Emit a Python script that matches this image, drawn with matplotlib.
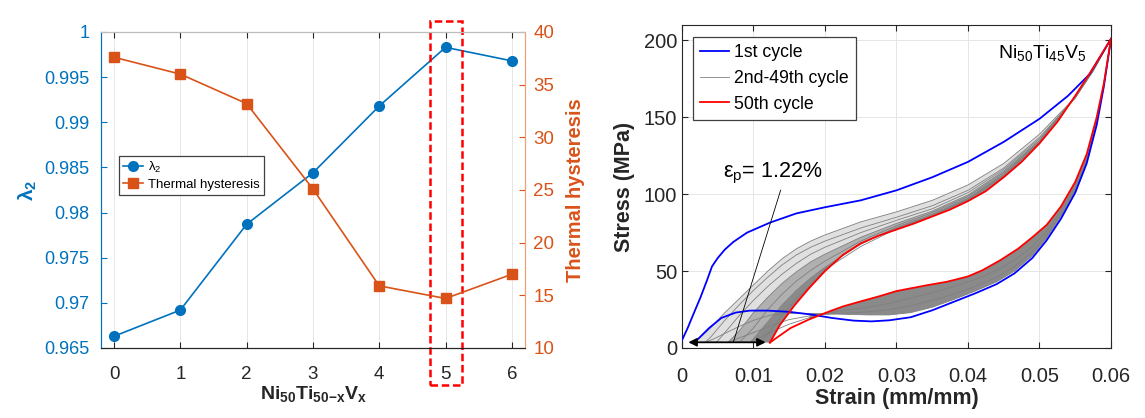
import matplotlib
matplotlib.use('Agg')
import matplotlib.pyplot as plt
from matplotlib.lines import Line2D
from matplotlib.patches import Rectangle

plt.rcParams['font.family'] = ['Liberation Sans', 'DejaVu Sans']
plt.rcParams['mathtext.fontset'] = 'custom'
plt.rcParams['mathtext.rm'] = 'Liberation Sans'
plt.rcParams['mathtext.it'] = 'Liberation Sans:italic'
plt.rcParams['mathtext.bf'] = 'Liberation Sans:bold'

BLUE = '#0072BD'
ORANGE = '#D95319'
DARK = '#262626'

# ---- left panel data ----
vanadium_x = [0, 1, 2, 3, 4, 5, 6]
lambda2 = [0.9663, 0.9692, 0.9787, 0.9844, 0.9918, 0.9983, 0.9968]
thermal_hyst = [37.6, 36.0, 33.2, 25.1, 15.9, 14.7, 17.0]

# ---- right panel data (strain mm/mm, stress MPa) ----
cyc1_load_strain = [0.0, 0.0008, 0.0016, 0.0026, 0.0035, 0.0042, 0.0050, 0.0060, 0.0072, 0.0091,
                    0.0123, 0.0160, 0.0200, 0.0250, 0.0300, 0.0350, 0.0400, 0.0450, 0.0500,
                    0.0540, 0.0570, 0.0600]
cyc1_load_stress = [5, 13, 22, 33, 44, 53, 58.5, 64, 69, 75,
                    81.5, 87.5, 91.5, 96, 102.5, 111, 121, 134, 149,
                    164, 178, 201]
cyc1_unload_strain = [0.0600, 0.0590, 0.0580, 0.0566, 0.0550, 0.0530, 0.0510, 0.0490, 0.0465,
                      0.0440, 0.0410, 0.0380, 0.0350, 0.0320, 0.0290, 0.0265, 0.0240, 0.0210,
                      0.0180, 0.0150, 0.0120, 0.0095, 0.0075, 0.0055, 0.0038, 0.0025, 0.0017]
cyc1_unload_stress = [201, 170, 145, 120, 101, 84, 70, 58.5, 48.5,
                      41.5, 35.5, 30, 24.5, 20, 18, 17.3, 17.8, 19.5,
                      21.8, 23.5, 24.3, 24.3, 23, 19.5, 13, 7, 3.5]

cyc50_load_strain = [0.0123, 0.0137, 0.0157, 0.0177, 0.0200, 0.0225, 0.0250, 0.0275, 0.0300,
                     0.0325, 0.0350, 0.0375, 0.0400, 0.0425, 0.0450, 0.0475, 0.0500, 0.0525,
                     0.0550, 0.0575, 0.0600]
cyc50_load_stress = [3.5, 15, 27.5, 38.5, 50, 60.5, 68, 73, 77,
                     81, 85.5, 90, 95.5, 102, 111, 121, 133, 147,
                     164, 182, 201]
cyc50_unload_strain = [0.0600, 0.0590, 0.0580, 0.0566, 0.0550, 0.0530, 0.0510, 0.0490, 0.0470,
                       0.0445, 0.0420, 0.0400, 0.0370, 0.0345, 0.0320, 0.0300, 0.0275, 0.0250,
                       0.0225, 0.0200, 0.0177, 0.0152, 0.0135, 0.0123]
cyc50_unload_stress = [201, 172, 150, 126, 108, 92, 80, 72, 64.5,
                       57, 50.5, 46.5, 43, 41, 38.8, 37, 33.5, 30.3,
                       27, 22.7, 18.4, 13, 7.5, 3.5]

# grey cycles (2nd-49th): loading branches on a shared strain grid
grey_load_grid = [0.002, 0.004, 0.006, 0.008, 0.010, 0.012, 0.014, 0.016, 0.018, 0.020,
                  0.025, 0.030, 0.035, 0.040, 0.045, 0.050, 0.055, 0.0575, 0.060]
grey_load_start = [0.0018, 0.0032, 0.0048, 0.0064, 0.0080, 0.0095, 0.0108]
grey_load_stress = [
    [4.5, 13, 23, 32, 41, 50, 58, 64.5, 69.5, 73.5, 82, 88.5, 96, 106, 120, 139, 163, 180, 201],
    [None, 7, 18, 28, 37.5, 46, 54, 60.5, 65.5, 69.5, 78, 85, 92.5, 102.5, 117, 137, 162.5, 180, 201],
    [None, None, 10, 21, 31, 40, 48, 55, 61, 65.5, 75, 83, 90.5, 101, 116, 136, 162.5, 180.5, 201],
    [None, None, None, 11, 23, 33, 42, 49.5, 56, 61, 72, 81, 89, 99.5, 115, 135, 163.5, 181, 201],
    [None, None, None, None, 13, 25, 35, 43.5, 50.5, 56.5, 69.5, 79.5, 88, 98.5, 114, 134.5, 163.5, 181, 201],
    [None, None, None, None, 6, 17, 28, 37.5, 45.5, 52.5, 67.5, 78.5, 87, 97.5, 113, 134, 163.5, 181.5, 201],
    [None, None, None, None, None, 9, 21, 32, 41, 51, 66, 77.5, 86, 96.5, 112, 133.5, 163.5, 181.5, 201],
]

# grey unloading branches on a shared strain grid
grey_unload_grid = [0.0045, 0.006, 0.008, 0.010, 0.0125, 0.015, 0.018, 0.022, 0.026, 0.029,
                    0.032, 0.035, 0.038, 0.041, 0.044, 0.0465, 0.049, 0.051, 0.053, 0.055,
                    0.0566, 0.058, 0.059, 0.060]
grey_unload_end = [0.0032, 0.0064, 0.0095]
grey_unload_stress = [
    [6, 9.5, 14, 18, 21.5, 22.5, 22.5, 22, 21.5, 21.5, 23, 26.5, 31.5, 37, 43, 50, 60, 71.5, 85.5, 102, 121, 146, 170, 201],
    [None, None, 6.5, 10, 14.5, 18.5, 21, 22.5, 23.5, 25, 27.5, 31, 35, 40, 46, 53, 62.5, 73.5, 87, 104, 122.5, 147, 171, 201],
    [None, None, None, 5, 10.5, 15.5, 20, 24, 26.5, 29, 32.5, 36, 40, 44.5, 50.5, 57, 66, 76, 89, 105.5, 124, 148, 171.5, 201],
]

residual_strain = [0.0005, 0.0121]
residual_level = 3.7


def branch(start, grid, values, first_stress=3.5):
    xs, ys = [start], [first_stress]
    for g, v in zip(grid, values):
        if v is not None:
            xs.append(g)
            ys.append(v)
    return xs, ys


def band(ax, xa, ya, xb, yb, color, lo=0.0):
    # closed region between two branches, both given in increasing strain
    pa = [(x, y) for x, y in zip(xa, ya) if x >= lo]
    pb = [(x, y) for x, y in zip(xb, yb) if x >= lo][::-1]
    pts = pa + pb
    ax.fill([p[0] for p in pts], [p[1] for p in pts], color=color, lw=0, zorder=1)


fig = plt.figure(figsize=(11.45, 4.18), dpi=100)

# ================= left panel =================
ax1 = fig.add_axes([0.088, 0.1675, 0.3706, 0.756])
ax2 = ax1.twinx()

ax1.plot(vanadium_x, lambda2, '-o', color=BLUE, lw=1.2, ms=7, label='λ$_2$', zorder=3)
ax2.plot(vanadium_x, thermal_hyst, '-s', color=ORANGE, lw=1.2, ms=7, label='Thermal hysteresis', zorder=3)

ax1.set_xlim(-0.2, 6.2)
ax1.set_ylim(0.965, 1.0)
ax2.set_ylim(10, 40)
ax1.set_xticks(vanadium_x)
ax1.set_yticks([0.965, 0.97, 0.975, 0.98, 0.985, 0.99, 0.995, 1.0])
ax1.set_yticklabels(['0.965', '0.97', '0.975', '0.98', '0.985', '0.99', '0.995', '1'])
ax2.set_yticks([10, 15, 20, 25, 30, 35, 40])
ax1.grid(True, axis='x', color='#e6e6e6', lw=0.7)
ax1.set_axisbelow(True)

ax1.tick_params(axis='x', direction='in', length=4, top=True, labelsize=13.5, colors=DARK, pad=13)
ax1.tick_params(axis='y', direction='in', length=4, labelsize=13, colors=BLUE, pad=8)
ax2.tick_params(axis='y', direction='in', length=4, labelsize=13.5, colors=ORANGE, pad=6)
for a in (ax1, ax2):
    a.spines['left'].set_color(BLUE)
    a.spines['right'].set_color('#f0a070')
    a.spines['top'].set_color('#bdbdbd')
    a.spines['bottom'].set_color(DARK)

ax1.set_xlabel(r'Ni$_{\mathbf{50}}$Ti$_{\mathbf{50{-}x}}$V$_{\mathbf{x}}$', fontsize=14,
               fontweight='bold', color=DARK, labelpad=1)
ax1.set_ylabel(r'λ$_\mathbf{2}$', fontsize=15, fontweight='bold', color=BLUE, labelpad=4)
ax2.set_ylabel('Thermal hysteresis', fontsize=14.5, fontweight='bold', color=ORANGE, labelpad=8)

h1, l1 = ax1.get_legend_handles_labels()
h2, l2 = ax2.get_legend_handles_labels()
leg = ax2.legend(h1 + h2, l1 + l2, loc='upper left', bbox_to_anchor=(0.043, 0.608),
                 borderaxespad=0, fontsize=9.5, fancybox=False, framealpha=1,
                 edgecolor='#404040', handlelength=1.5, handletextpad=0.4,
                 borderpad=0.3, labelspacing=0.3)
leg.get_frame().set_linewidth(0.9)

ax1.add_patch(Rectangle((4.76, -0.117), 0.49, 1.152, transform=ax1.get_xaxis_transform(),
                        fill=False, edgecolor='#ff0000', lw=1.8, ls=(0, (3, 1.5)),
                        clip_on=False, zorder=5))

# ================= right panel =================
ax = fig.add_axes([0.5956, 0.1675, 0.3747, 0.7727])
GREY = '#808080'

# shading for the densely packed 2nd-49th cycles
la_x, la_y = branch(grey_load_start[0], grey_load_grid, grey_load_stress[0])
ld_x, ld_y = branch(grey_load_start[3], grey_load_grid, grey_load_stress[3])
lf_x, lf_y = branch(grey_load_start[5], grey_load_grid, grey_load_stress[5])
band(ax, la_x, la_y, ld_x, ld_y, '#e0e0e0')
band(ax, ld_x, ld_y, lf_x, lf_y, '#b0b0b0')
band(ax, lf_x, lf_y, cyc50_load_strain, cyc50_load_stress, '#8a8a8a')

u_x, u_y = branch(grey_unload_end[0], grey_unload_grid, grey_unload_stress[0])
band(ax, u_x, u_y, cyc50_unload_strain[::-1], cyc50_unload_stress[::-1], '#8a8a8a', lo=0.0175)

for s, vals in zip(grey_load_start, grey_load_stress):
    xs, ys = branch(s, grey_load_grid, vals)
    ax.plot(xs, ys, color=GREY, lw=0.6, zorder=2)
for s, vals in zip(grey_unload_end, grey_unload_stress):
    xs, ys = branch(s, grey_unload_grid, vals)
    ax.plot(xs, ys, color=GREY, lw=0.6, zorder=2)

ax.plot(cyc1_load_strain, cyc1_load_stress, color='#0000ff', lw=1.3, zorder=3)
ax.plot(cyc1_unload_strain, cyc1_unload_stress, color='#0000ff', lw=1.3, zorder=3)
ax.plot(cyc50_load_strain, cyc50_load_stress, color='#ff0000', lw=1.3, zorder=4)
ax.plot(cyc50_unload_strain, cyc50_unload_stress, color='#ff0000', lw=1.3, zorder=4)

ax.annotate('', xy=(residual_strain[0], residual_level), xytext=(residual_strain[1], residual_level),
            arrowprops=dict(arrowstyle='<|-|>', color='black', lw=1.3, mutation_scale=12), zorder=6)
ax.plot([0.0138, 0.0072], [102.6, 4.0], color='black', lw=0.6, zorder=6)
ax.text(0.0057, 113.5, r'ε$_\mathrm{p}$= 1.22%', fontsize=15.5, va='center', ha='left', zorder=6)
ax.text(0.0442, 191.5, r'Ni$_{50}$Ti$_{45}$V$_5$', fontsize=14, va='center', ha='left')

ax.set_xlim(0, 0.06)
ax.set_ylim(0, 210)
ax.set_xticks([0, 0.01, 0.02, 0.03, 0.04, 0.05, 0.06])
ax.set_xticklabels(['0', '0.01', '0.02', '0.03', '0.04', '0.05', '0.06'])
ax.set_yticks([0, 50, 100, 150, 200])
ax.grid(True, color='#e6e6e6', lw=0.7)
ax.set_axisbelow(True)
ax.tick_params(direction='in', length=4, top=True, right=True, labelsize=14.5, colors=DARK)
ax.tick_params(axis='x', pad=14)
for sp in ax.spines.values():
    sp.set_color(DARK)
ax.set_xlabel('Strain (mm/mm)', fontsize=15.5, fontweight='bold', color=DARK, labelpad=1)
ax.set_ylabel('Stress (MPa)', fontsize=15.5, fontweight='bold', color=DARK, labelpad=6)

handles = [Line2D([], [], color='#0000ff', lw=1.3),
           Line2D([], [], color=GREY, lw=0.6),
           Line2D([], [], color='#ff0000', lw=1.3)]
leg2 = ax.legend(handles, ['1st cycle', '2nd-49th cycle', '50th cycle'], loc='upper left',
                 bbox_to_anchor=(0.025, 0.963), borderaxespad=0, fontsize=12.7,
                 fancybox=False, framealpha=1, edgecolor='#404040', handlelength=1.65,
                 handletextpad=0.3, borderpad=0.4, labelspacing=0.5)
leg2.get_frame().set_linewidth(0.9)

fig.savefig('out.png', dpi=100)
